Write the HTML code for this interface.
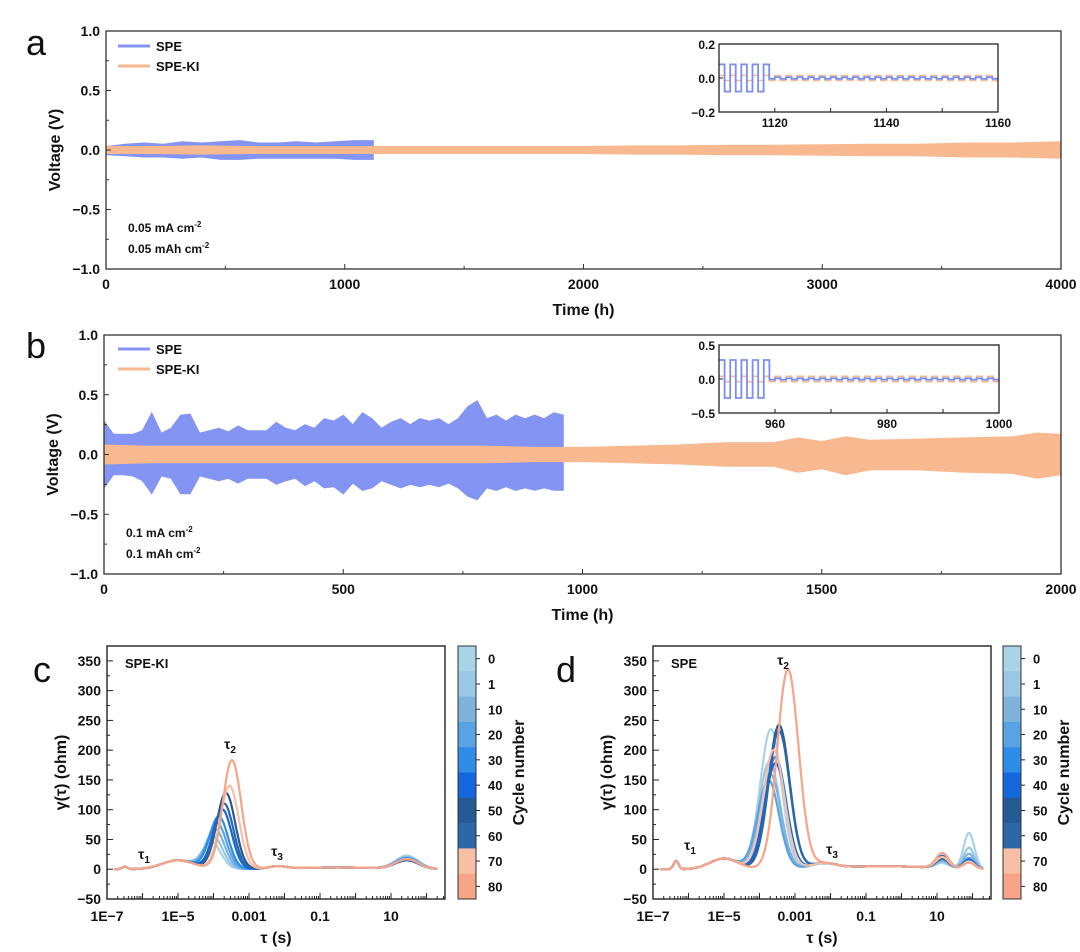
<!DOCTYPE html>
<html><head><meta charset="utf-8">
<style>
html,body{margin:0;padding:0;background:#fff;}
svg{display:block;font-family:"Liberation Sans",Arial,sans-serif;}
text{font-weight:bold;fill:#111;}
</style></head>
<body>
<svg id="fig" width="1080" height="952" viewBox="0 0 1080 952" xmlns="http://www.w3.org/2000/svg"></svg>
<script>
// ---------- DATA ----------
const aSpeTimes = [0,80,160,240,320,400,480,560,640,720,800,880,960,1040,1120];
const aSpeUpper = [0.03,0.05,0.06,0.05,0.07,0.06,0.07,0.08,0.06,0.06,0.07,0.06,0.07,0.08,0.08];
const aSpeLower = [-0.04,-0.05,-0.06,-0.06,-0.07,-0.06,-0.08,-0.08,-0.07,-0.07,-0.07,-0.07,-0.07,-0.08,-0.08];
const aKiTimes = [0,200,400,600,800,1000,1200,1400,1600,1800,2000,2200,2400,2600,2800,3000,3200,3400,3600,3800,4000];
const aKiAmp = [0.03,0.03,0.035,0.03,0.03,0.03,0.03,0.03,0.03,0.03,0.03,0.035,0.035,0.04,0.04,0.045,0.05,0.05,0.06,0.06,0.07];
const bSpeTimes = [0,20,40,60,80,100,120,140,160,180,200,220,240,260,280,300,320,340,360,380,400,420,440,460,480,500,520,540,560,580,600,620,640,660,680,700,720,740,760,780,800,820,840,860,880,900,920,940,960];
const bSpeUpper = [0.28,0.17,0.17,0.17,0.2,0.35,0.18,0.22,0.33,0.34,0.18,0.2,0.22,0.19,0.24,0.2,0.2,0.2,0.27,0.22,0.2,0.25,0.22,0.3,0.28,0.33,0.25,0.35,0.3,0.22,0.27,0.3,0.25,0.3,0.28,0.3,0.25,0.3,0.4,0.45,0.3,0.33,0.28,0.33,0.3,0.33,0.3,0.35,0.33];
const bSpeLower = [-0.28,-0.17,-0.17,-0.18,-0.22,-0.33,-0.18,-0.2,-0.33,-0.33,-0.18,-0.2,-0.22,-0.2,-0.24,-0.2,-0.2,-0.2,-0.25,-0.22,-0.2,-0.26,-0.22,-0.28,-0.27,-0.33,-0.24,-0.3,-0.28,-0.22,-0.25,-0.28,-0.25,-0.27,-0.25,-0.27,-0.24,-0.28,-0.35,-0.38,-0.28,-0.3,-0.27,-0.3,-0.28,-0.3,-0.28,-0.3,-0.3];
const bKiTimes = [0,100,200,300,400,500,600,700,800,900,1000,1100,1200,1300,1400,1450,1500,1550,1600,1700,1800,1900,1950,2000];
const bKiUpper = [0.08,0.07,0.07,0.07,0.07,0.07,0.07,0.07,0.07,0.06,0.06,0.07,0.08,0.1,0.1,0.14,0.11,0.15,0.12,0.13,0.14,0.15,0.18,0.17];
const bKiLower = [-0.08,-0.07,-0.07,-0.07,-0.07,-0.07,-0.07,-0.07,-0.07,-0.06,-0.06,-0.07,-0.08,-0.1,-0.1,-0.15,-0.12,-0.17,-0.13,-0.13,-0.15,-0.16,-0.2,-0.17];
const insetASpeAmp = [0.08,0.005];
const insetAKiAmp = 0.015;
const insetBSpeAmp = [0.28,0.01];
const insetBKiAmp = 0.04;
const cycles = [0,1,10,20,30,40,50,60,70,80];
const cycleColors = ['#a9d3e6','#99c7e6','#80b3dc','#59a3e4','#2f8de9','#1467dd','#255b95','#2c67a8','#f8bfa7','#f7a489'];
const cPeakPos = [-4.05,-4.0,-3.95,-3.9,-3.85,-3.75,-3.65,-3.7,-3.55,-3.48];
const cPeakH = [44,54,66,77,88,100,128,110,140,183];
const cTailH = [22,20,19,18,17,16,14,15,16,16];
const dPeakPos = [-3.68,-3.72,-3.7,-3.75,-3.55,-3.55,-3.45,-3.45,-3.6,-3.2];
const dPeakH = [235,180,160,150,188,178,242,232,200,335];
const dTailH = [60,35,25,18,15,15,12,12,12,10];
const dMidH = [8,10,12,15,18,20,15,15,18,25];
const yTicksDRT = [-50,0,50,100,150,200,250,300,350];
const xTicksDRT = [-7,-5,-3,-1,1];
const xTickLabelsDRT = ['1E\u22127','1E\u22125','0.001','0.1','10'];

// ---------- HELPERS ----------
const NS='http://www.w3.org/2000/svg';
const svg=document.getElementById('fig');
function el(tag,attrs,parent){const e=document.createElementNS(NS,tag);for(const k in attrs)e.setAttribute(k,attrs[k]);(parent||svg).appendChild(e);return e;}
function txt(s,x,y,size,anchor,parent,extra){const t=el('text',Object.assign({x:x,y:y,'font-size':size,'text-anchor':anchor||'start'},extra||{}),parent);t.textContent=s;return t;}
function mkScale(d0,d1,r0,r1){return v=>r0+(v-d0)/(d1-d0)*(r1-r0);}
function bandPath(ts,up,lo,X,Y){let p='';for(let i=0;i<ts.length;i++)p+=(i?'L':'M')+X(ts[i]).toFixed(1)+','+Y(up[i]).toFixed(1);for(let i=ts.length-1;i>=0;i--)p+='L'+X(ts[i]).toFixed(1)+','+Y(lo[i]).toFixed(1);return p+'Z';}

function voltagePanel(o){
  const g=el('g',{});
  
  
  const X=mkScale(0,o.xmax,o.x0,o.x1), Y=mkScale(-1,1,o.y1,o.y0);
  const s1=el('path',{d:bandPath(o.speT,o.speU,o.speL,X,Y),fill:'#8494f2',stroke:'#8494f2','stroke-width':0.8},g);
  
  
  const s2=el('path',{d:bandPath(o.kiT,o.kiU,o.kiL,X,Y),fill:'#f9b990',stroke:'#f9b990','stroke-width':0.8},g);
  
  
  el('rect',{x:o.x0,y:o.y0,width:o.x1-o.x0,height:o.y1-o.y0,fill:'none',stroke:'#333','stroke-width':1.3},g);
  for(let v=-1;v<=1.001;v+=0.25){const y=Y(v);const major=Math.abs(v*2-Math.round(v*2))<1e-6;
    el('line',{x1:o.x0,x2:o.x0+(major?5:3),y1:y,y2:y,stroke:'#333','stroke-width':1},g);
    if(major){const t=txt((v<0?'\u2212':'')+Math.abs(v).toFixed(1),o.x0-6,y+5,14,'end',g);}}
  for(let v=0;v<=o.xmax+1e-6;v+=o.xminor){const x=X(v);const major=Math.abs(v/o.xmajor-Math.round(v/o.xmajor))<1e-6;
    el('line',{x1:x,x2:x,y1:o.y1,y2:o.y1-(major?5:3),stroke:'#333','stroke-width':1},g);
    if(major){const t=txt(String(v),x,o.y1+20,14,'middle',g);}}
  const xt=txt('Time (h)',(o.x0+o.x1)/2,o.y1+46,16,'middle',g);
  
  const yt=txt('Voltage (V)',0,0,16,'middle',g,{transform:`translate(${o.x0-46},${(o.y0+o.y1)/2}) rotate(-90)`});
  
  const lg=el('g',{},g);
  el('line',{x1:o.legX,x2:o.legX+32,y1:o.legY,y2:o.legY,stroke:'#8494f2','stroke-width':3},lg);
  txt('SPE',o.legX+38,o.legY+5,13,'start',lg);
  el('line',{x1:o.legX,x2:o.legX+32,y1:o.legY+20,y2:o.legY+20,stroke:'#f9b990','stroke-width':3},lg);
  txt('SPE-KI',o.legX+38,o.legY+25,13,'start',lg);
  const an=el('g',{},g);
  const t1=txt(o.note1,o.x0+22,o.noteY,12,'start',an);const s=el('tspan',{dy:-5,'font-size':8},t1);s.textContent='-2';
  const t2=txt(o.note2,o.x0+22,o.noteY+21,12,'start',an);const s2b=el('tspan',{dy:-5,'font-size':8},t2);s2b.textContent='-2';
  const L=txt(o.letter,o.letterX,o.letterY,36,'middle',g);L.style.fontWeight='normal';
  
  return g;
}

function inset(o){
  const g=el('g',{});
  const X=mkScale(o.t0,o.t1,o.x0,o.x1), Y=mkScale(-o.ymax,o.ymax,o.y1,o.y0);
  function sq(ampFn){let p='';let first=true;for(let t=o.t0;t<o.t1;t+=1){const k=Math.floor(t-o.t0);const a=ampFn(t)*(k%2===0?1:-1);
    p+=(first?'M':'L')+X(t).toFixed(1)+','+Y(a).toFixed(1)+'L'+X(Math.min(t+1,o.t1)).toFixed(1)+','+Y(a).toFixed(1);first=false;}return p;}
  const ki=el('path',{d:sq(()=>o.kiAmp),fill:'none',stroke:'#f9b990','stroke-width':1.6},g);
  
  const sp=el('path',{d:sq(t=>t<o.tcut?o.speAmp[0]:o.speAmp[1]),fill:'none',stroke:'#7d8ef2','stroke-width':1.8},g);
  
  el('rect',{x:o.x0,y:o.y0,width:o.x1-o.x0,height:o.y1-o.y0,fill:'none',stroke:'#222','stroke-width':1.3},g);
  [o.ymax,0,-o.ymax].forEach(v=>{const y=Y(v);el('line',{x1:o.x0,x2:o.x0+4,y1:y,y2:y,stroke:'#222'},g);
    txt((v<0?'\u2212':'')+Math.abs(v).toFixed(1),o.x0-4,y+5,12,'end',g);});
  for(let t=o.t0;t<=o.t1;t+=10){const x=X(t);el('line',{x1:x,x2:x,y1:o.y1,y2:o.y1-4,stroke:'#222'},g);
    if((t-o.tl)%20===0)txt(String(t),x,o.y1+15,12,'middle',g);}
}

voltagePanel({name:'panel-a',x0:106,x1:1061,y0:31,y1:269,xmax:4000,xmajor:1000,xminor:500,
  speT:aSpeTimes,speU:aSpeUpper,speL:aSpeLower,kiT:aKiTimes,kiU:aKiAmp,kiL:aKiAmp.map(v=>-v),
  legX:118,legY:46,note1:'0.05 mA cm',note2:'0.05 mAh cm',noteY:232,letter:'a',letterX:36,letterY:55});
voltagePanel({name:'panel-b',x0:104,x1:1061,y0:335,y1:574,xmax:2000,xmajor:500,xminor:250,
  speT:bSpeTimes,speU:bSpeUpper,speL:bSpeLower,kiT:bKiTimes,kiU:bKiUpper,kiL:bKiLower,
  legX:118,legY:349,note1:'0.1 mA cm',note2:'0.1 mAh cm',noteY:537,letter:'b',letterX:36,letterY:358});
inset({name:'inset-a',x0:719,x1:998,y0:44,y1:112,t0:1110,t1:1160,tl:1120,ymax:0.2,tcut:1119,speAmp:insetASpeAmp,kiAmp:insetAKiAmp});
inset({name:'inset-b',x0:719,x1:999,y0:345,y1:413,t0:950,t1:1000,tl:960,ymax:0.5,tcut:959,speAmp:insetBSpeAmp,kiAmp:insetBKiAmp});

function gauss(x,m,s){return Math.exp(-0.5*((x-m)/s)*((x-m)/s));}
function drtPanel(o){
  const g=el('g',{});
  const X=mkScale(-7,o.xmaxLog,o.x0,o.x1), Y=mkScale(-50,o.ymaxV,o.y1,o.y0);
  for(let i=0;i<cycles.length;i++){
    let p='';
    for(let lx=-6.8;lx<=2.3;lx+=0.02){
      const v=o.fn(i,lx);
      p+=(lx===-6.8?'M':'L')+X(lx).toFixed(1)+','+Y(v).toFixed(1);
    }
    const c=el('path',{d:p,fill:'none',stroke:cycleColors[i],'stroke-width':2.2},g);
    
    
  }
  el('rect',{x:o.x0,y:o.y0,width:o.x1-o.x0,height:o.y1-o.y0,fill:'none',stroke:'#222','stroke-width':1.4},g);
  yTicksDRT.forEach(v=>{const y=Y(v);el('line',{x1:o.x0,x2:o.x0+6,y1:y,y2:y,stroke:'#222'},g);
    el('line',{x1:o.x0,x2:o.x0+3,y1:Y(v+25),y2:Y(v+25),stroke:'#222'},g);
    const t=txt(String(v).replace('-','\u2212'),o.x0-6,y+5,14,'end',g);});
  for(let d=-7;d<Math.ceil(o.xmaxLog);d++){for(let m=1;m<10;m++){const lx=d+Math.log10(m);if(lx>o.xmaxLog)break;const x=X(lx);
    el('line',{x1:x,x2:x,y1:o.y1,y2:o.y1-(m===1?6:3),stroke:'#222'},g);}}
  xTicksDRT.forEach((v,i)=>{const t=txt(xTickLabelsDRT[i],X(v),o.y1+22,14,'middle',g);});
  const xt=txt('\u03c4 (s)',(o.x0+o.x1)/2,o.y1+44,16,'middle',g);
  const yt=txt('\u03b3(\u03c4) (ohm)',0,0,16,'middle',g,{transform:`translate(${o.x0-41},${(o.y0+o.y1)/2}) rotate(-90)`});
  
  txt(o.label,o.x0+18,o.y0+22,13,'start',g);
  o.taus.forEach(tt=>{const t=txt('\u03c4',tt[0],tt[1],14,'middle',g);const s=el('tspan',{dy:4,'font-size':10},t);s.textContent=tt[2];});
  const cb=el('g',{},g);
  const bh=(o.y1-o.y0)/cycles.length;
  cycles.forEach((c,i)=>{el('rect',{x:o.cbX,y:o.y0+i*bh,width:18,height:bh+0.5,fill:cycleColors[i]},cb);
    el('line',{x1:o.cbX+18,x2:o.cbX+22,y1:o.y0+(i+0.5)*bh,y2:o.y0+(i+0.5)*bh,stroke:'#222'},cb);
    txt(String(c),o.cbX+30,o.y0+(i+0.5)*bh+5,13,'start',cb);});
  el('rect',{x:o.cbX,y:o.y0,width:18,height:o.y1-o.y0,fill:'none',stroke:'#333','stroke-width':1},cb);
  txt('Cycle number',0,0,16,'middle',cb,{transform:`translate(${o.cbX+66},${(o.y0+o.y1)/2}) rotate(-90)`});
  const L=txt(o.letter,o.letterX,o.letterY,36,'middle',g);L.style.fontWeight='normal';
  
}
drtPanel({name:'panel-c',x0:107,x1:445,y0:646,y1:899,ymaxV:375,xmaxLog:2.52,cbX:458,label:'SPE-KI',letter:'c',letterX:42,letterY:682,
  taus:[[144,859,'1'],[230,749,'2'],[277,856,'3']],
  fn:(i,lx)=>cPeakH[i]*gauss(lx,cPeakPos[i],0.26)+15*gauss(lx,-5.0,0.45)+4*gauss(lx,-6.5,0.08)+4*gauss(lx,-2.2,0.25)+3*gauss(lx,-0.5,1.3)+cTailH[i]*gauss(lx,1.45,0.32)});
drtPanel({name:'panel-d',x0:653,x1:991,y0:646,y1:899,ymaxV:375,xmaxLog:2.52,cbX:1003,label:'SPE',letter:'d',letterX:566,letterY:682,
  taus:[[690,850,'1'],[783,665,'2'],[832,854,'3']],
  fn:(i,lx)=>dPeakH[i]*gauss(lx,dPeakPos[i],0.3)+18*gauss(lx,-5.0,0.4)+14*gauss(lx,-6.35,0.07)+8*gauss(lx,-2.2,0.35)+5*gauss(lx,-0.5,1.4)+dMidH[i]*gauss(lx,1.15,0.18)+dTailH[i]*gauss(lx,1.9,0.15)});
</script>
</body></html>
